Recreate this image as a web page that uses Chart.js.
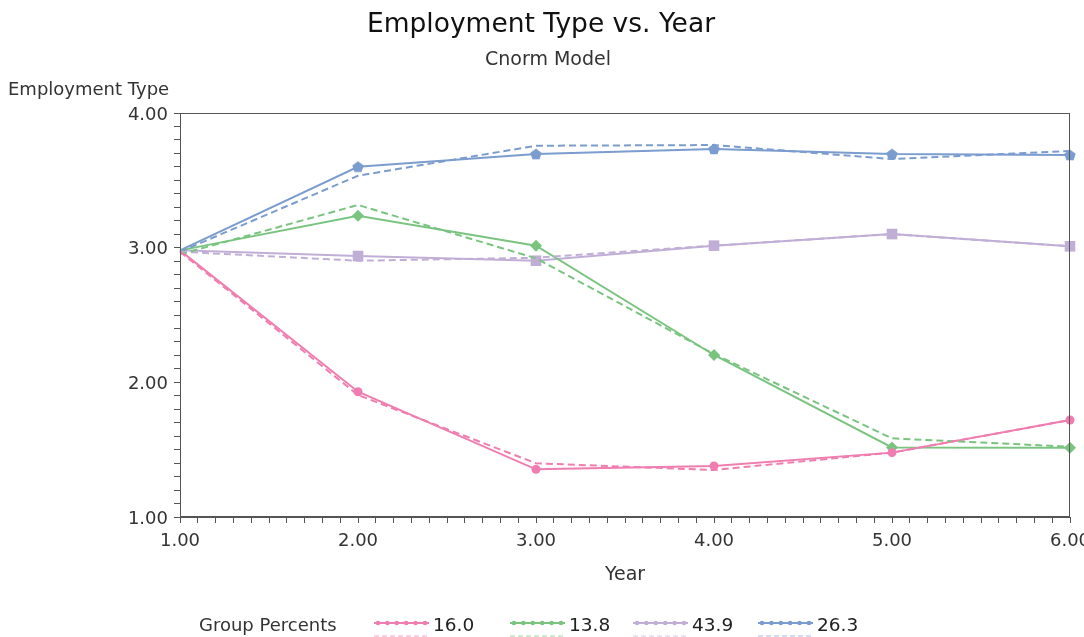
<!DOCTYPE html>
<html>
<head>
<meta charset="utf-8">
<script src="https://cdn.jsdelivr.net/npm/chart.js@4.4.1/dist/chart.umd.min.js"></script>
<style>
html,body{margin:0;padding:0;background:#fff;}
#wrap{width:1084px;height:637px;position:relative;}
</style>
</head>
<body>
<div id="wrap"><canvas id="c" width="1084" height="637"></canvas></div>
<script>
const years = [1, 2, 3, 4, 5, 6];
const seriesLabels = ['16.0', '13.8', '43.9', '26.3'];
const pinkObs = [2.98, 1.93, 1.354, 1.379, 1.478, 1.72];
const pinkPred = [2.97, 1.906, 1.399, 1.349, 1.478, 1.72];
const greenObs = [2.98, 3.237, 3.015, 2.203, 1.517, 1.515];
const greenPred = [2.95, 3.317, 2.921, 2.21, 1.584, 1.522];
const purpleObs = [2.98, 2.938, 2.903, 3.015, 3.101, 3.01];
const purplePred = [2.97, 2.903, 2.925, 3.015, 3.101, 3.01];
const blueObs = [2.98, 3.601, 3.695, 3.733, 3.695, 3.688];
const bluePred = [2.97, 3.534, 3.757, 3.762, 3.658, 3.718];
const yTickLabels = ['1.00', '2.00', '3.00', '4.00'];
const xTickLabels = ['1.00', '2.00', '3.00', '4.00', '5.00', '6.00'];

const PINK = 'rgb(240,125,176)';
const GREEN = 'rgb(122,196,128)';
const PURPLE = 'rgb(193,174,214)';
const BLUE = 'rgb(123,156,206)';
const FONT = '"DejaVu Sans", sans-serif';

function pentagon(color, size) {
  const cv = document.createElement('canvas');
  cv.width = size; cv.height = size;
  const g = cv.getContext('2d');
  const r = size / 2, cx = size / 2, cy = size / 2 + 0.5;
  g.beginPath();
  for (let i = 0; i < 5; i++) {
    const a = -Math.PI / 2 + i * 2 * Math.PI / 5;
    const px = cx + r * Math.cos(a), py = cy + r * Math.sin(a);
    if (i === 0) g.moveTo(px, py); else g.lineTo(px, py);
  }
  g.closePath();
  g.fillStyle = color;
  g.fill();
  return cv;
}
const pent = pentagon(BLUE, 12);

function toXY(arr) { return arr.map((v, i) => ({x: years[i], y: v})); }
const noFirst = r => years.map((_, i) => i === 0 ? 0 : r);

function solid(data, color, style, r) {
  return {data: toXY(data), borderColor: color, backgroundColor: color, borderWidth: 2,
    pointStyle: style, pointRadius: noFirst(r), pointBorderWidth: 0, pointBackgroundColor: color,
    pointBorderColor: color, tension: 0, clip: false, fill: false};
}
function dashed(data, color) {
  return {data: toXY(data), borderColor: color, backgroundColor: color, borderWidth: 2,
    borderDash: [7, 4], pointRadius: 0, tension: 0, clip: false, fill: false};
}

const legendColors = [PINK, GREEN, PURPLE, BLUE];

const decor = {
  id: 'decor',
  afterDraw(chart) {
    const ctx = chart.ctx, a = chart.chartArea;
    ctx.save();
    ctx.strokeStyle = '#555';
    ctx.lineWidth = 1;
    ctx.strokeRect(Math.round(a.left) + 0.5, Math.round(a.top) + 0.5, Math.round(a.right - a.left) - 1, Math.round(a.bottom - a.top) - 1);
    ctx.fillStyle = '#111';
    ctx.textAlign = 'center';
    ctx.textBaseline = 'alphabetic';
    ctx.font = '26.5px ' + FONT;
    ctx.fillText('Employment Type vs. Year', 541, 32);
    ctx.fillStyle = '#333';
    ctx.font = '19px ' + FONT;
    ctx.fillText('Cnorm Model', 548, 65);
    ctx.font = '18px ' + FONT;
    ctx.textAlign = 'left';
    ctx.fillText('Employment Type', 8, 95);
    ctx.textAlign = 'center';
    ctx.font = '19px ' + FONT;
    ctx.fillText('Year', (a.left + a.right) / 2, 580);
    // legend
    ctx.textAlign = 'left';
    ctx.font = '18px ' + FONT;
    ctx.fillText('Group Percents', 199, 631);
    const starts = [374, 510, 633, 758];
    seriesLabels.forEach((lab, i) => {
      const x0 = starts[i], col = legendColors[i];
      ctx.strokeStyle = col; ctx.lineWidth = 2; ctx.setLineDash([]);
      ctx.beginPath(); ctx.moveTo(x0, 623); ctx.lineTo(x0 + 55, 623); ctx.stroke();
      ctx.fillStyle = col;
      for (let k = 0; k < 6; k++) {
        ctx.beginPath(); ctx.arc(x0 + 4 + k * 9.4, 623, 2.3, 0, Math.PI * 2); ctx.fill();
      }
      ctx.globalAlpha = 0.35;
      ctx.setLineDash([5, 3]);
      ctx.beginPath(); ctx.moveTo(x0, 636); ctx.lineTo(x0 + 55, 636); ctx.stroke();
      ctx.setLineDash([]);
      ctx.globalAlpha = 1;
      ctx.fillStyle = '#222';
      ctx.font = '18.5px ' + FONT;
      ctx.fillText(lab, x0 + 59, 631);
    });
    ctx.restore();
  }
};

new Chart(document.getElementById('c'), {
  type: 'line',
  data: {
    datasets: [
      dashed(pinkPred, PINK), dashed(greenPred, GREEN), dashed(purplePred, PURPLE), dashed(bluePred, BLUE),
      solid(pinkObs, PINK, 'circle', 4.5), solid(greenObs, GREEN, 'rectRot', 6),
      solid(purpleObs, PURPLE, 'rect', 7.5), solid(blueObs, BLUE, pent, 6)
    ]
  },
  options: {
    responsive: false,
    animation: false,
    layout: {padding: {top: 113, right: 14, left: 0, bottom: 0}},
    plugins: {legend: {display: false}, title: {display: false}, tooltip: {enabled: false}},
    scales: {
      x: {
        type: 'linear', min: 1, max: 6,
        afterFit(s) { s.height = 120; s.paddingRight = 0; s.paddingLeft = 0; },
        grid: {drawOnChartArea: false, drawTicks: true, tickLength: 6, color: '#555'},
        border: {display: true, color: '#555'},
        ticks: {
          stepSize: 0.1, autoSkip: false, maxRotation: 0, minRotation: 0, padding: 8,
          color: '#333', font: {size: 18, family: FONT},
          callback(v) {
            const r = Math.round(v);
            if (Math.abs(v - r) < 1e-6) { const i = years.indexOf(r); return i >= 0 ? xTickLabels[i] : ''; }
            return '';
          }
        }
      },
      y: {
        min: 1, max: 4,
        afterFit(s) { s.width = 180; s.paddingTop = 0; s.paddingBottom = 0; },
        grid: {drawOnChartArea: false, drawTicks: true, tickLength: 6, color: '#555'},
        border: {display: true, color: '#555'},
        ticks: {
          stepSize: 0.1, autoSkip: false, padding: 6, labelOffset: 2,
          color: '#333', font: {size: 18, family: FONT},
          callback(v) {
            const r = Math.round(v);
            if (Math.abs(v - r) < 1e-6 && r >= 1 && r <= 4) return yTickLabels[r - 1];
            return '';
          }
        }
      }
    }
  },
  plugins: [decor]
});
</script>
</body>
</html>
